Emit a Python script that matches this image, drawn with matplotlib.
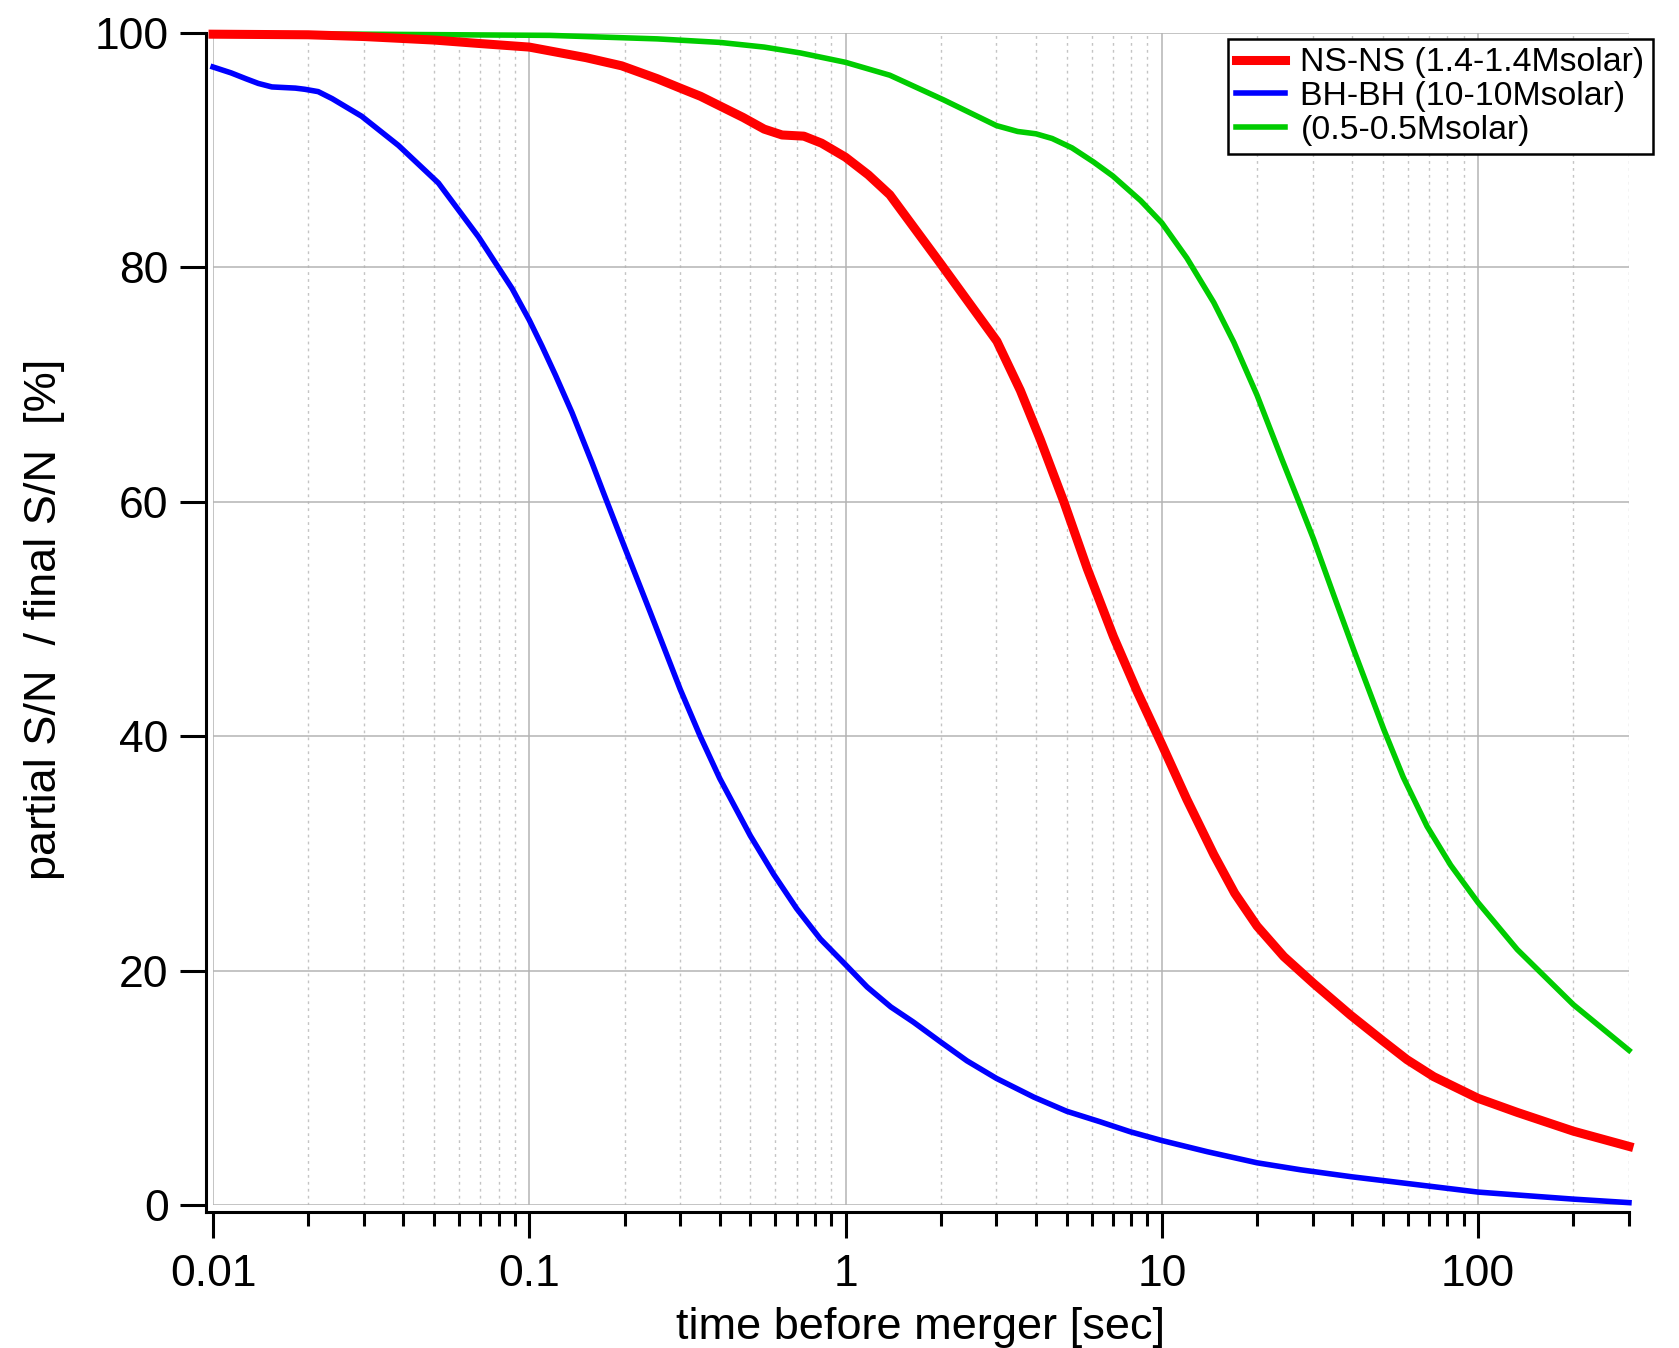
# Partial S/N accumulated before merger, for three binary types

# ################### IMPORT ####################
import matplotlib.pyplot as plt
import matplotlib.ticker as ticker


# ################### DATA ####################
# time before merger [sec] / partial S/N over final S/N [%]
NS_TIME = [0.01, 0.02, 0.03, 0.05, 0.07, 0.1, 0.151, 0.196, 0.254, 0.3,
           0.348, 0.406, 0.474, 0.553, 0.63, 0.738, 0.84, 1.0, 1.18, 1.38,
           2.0, 3.01, 3.57, 4.13, 4.9, 5.81, 7.03, 8.36, 10, 12.0, 14.6, 17,
           20, 24.3, 30.2, 39.5, 50, 59.6, 72.4, 100, 133, 200, 300]
NS_SN = [99.9, 99.85, 99.7, 99.4, 99.1, 98.8, 97.9, 97.2, 96.1, 95.3, 94.6,
         93.7, 92.8, 91.8, 91.3, 91.2, 90.6, 89.4, 87.9, 86.2, 80.3, 73.7,
         69.5, 65.3, 60.0, 54.3, 48.5, 43.8, 39.3, 34.6, 29.9, 26.6, 23.8,
         21.2, 18.9, 16.2, 14.0, 12.4, 10.95, 9.1, 7.9, 6.3, 5.0]

BH_TIME = [0.01, 0.0114, 0.0127, 0.0139, 0.01535, 0.0182, 0.0195, 0.0215,
           0.0238, 0.0295, 0.0386, 0.0516, 0.0691, 0.0882, 0.1, 0.1096, 0.121,
           0.1365, 0.158, 0.172, 0.199, 0.241, 0.3, 0.347, 0.4, 0.5, 0.593,
           0.7, 0.832, 1.0, 1.17, 1.39, 1.64, 2.0, 2.42, 3.0, 3.94, 5.0, 6.38,
           7.94, 10, 13.9, 20, 27.5, 40, 57, 100, 200, 300]
BH_SN = [97.1, 96.6, 96.1, 95.7, 95.4, 95.3, 95.2, 95.0, 94.4, 92.9, 90.4,
         87.2, 82.6, 78.2, 75.5, 73.3, 70.8, 67.6, 63.3, 60.7, 56.3, 50.6,
         44.0, 40.0, 36.4, 31.5, 28.2, 25.3, 22.7, 20.5, 18.6, 16.9, 15.6,
         13.9, 12.3, 10.8, 9.2, 8.0, 7.1, 6.25, 5.5, 4.55, 3.6, 3.0, 2.4, 1.9,
         1.1, 0.5, 0.2]

LIGHT_TIME = [0.01, 0.03, 0.116, 0.254, 0.4, 0.553, 0.72, 1.0, 1.38, 2.04,
              3.0, 3.5, 4.0, 4.5, 5.2, 6.08, 7.0, 8.57, 10, 12.0, 14.6, 16.9,
              20, 24.0, 27.4, 30.2, 35, 40.4, 50.3, 58, 69, 81.9, 100, 133, 200,
              300]
LIGHT_SN = [99.95, 99.9, 99.8, 99.5, 99.2, 98.8, 98.3, 97.5, 96.4, 94.3,
            92.1, 91.6, 91.4, 91.0, 90.2, 89.0, 87.8, 85.7, 83.8, 80.8, 77.0,
            73.6, 69.1, 63.6, 59.7, 56.8, 52.0, 47.4, 40.6, 36.5, 32.3, 29.0,
            25.8, 21.8, 17.1, 13.2]

LABELS = ["NS-NS (1.4-1.4Msolar)", "BH-BH (10-10Msolar)", "(0.5-0.5Msolar)"]

X_TICKS = [0.01, 0.1, 1, 10, 100]
X_TICK_LABELS = ["0.01", "0.1", "1", "10", "100"]
Y_TICKS = [0, 20, 40, 60, 80, 100]


# ################### FUNCTIONS ####################
def setupAxes(ax):
    ax.set_xscale("log")
    ax.set_xlim(0.01, 300)
    ax.set_ylim(0, 100)

    # Igor style axes: only left/bottom, pulled a little away from the data
    for side in ["top", "right"]:
        ax.spines[side].set_visible(False)
    for side in ["left", "bottom"]:
        ax.spines[side].set_position(("outward", 5))
        ax.spines[side].set_linewidth(2.2)
    ax.spines["left"].set_bounds(-0.6, 100)
    ax.spines["bottom"].set_bounds(0.0095, 300)

    ax.set_xticks(X_TICKS)
    ax.set_xticklabels(X_TICK_LABELS)
    ax.xaxis.set_minor_locator(ticker.LogLocator(base=10, subs=range(2, 10), numticks=20))
    ax.xaxis.set_minor_formatter(ticker.NullFormatter())
    ax.set_yticks(Y_TICKS)
    ax.yaxis.set_minor_locator(ticker.NullLocator())

    ax.tick_params(which="major", direction="out", length=19, width=2.2,
                   labelsize=32, pad=8)
    ax.tick_params(axis="x", which="major", pad=11)
    ax.tick_params(which="minor", direction="out", length=10, width=2.2)

    ax.set_axisbelow(True)
    ax.grid(True, which="major", color="#b4b4b4", linewidth=1.1)
    ax.grid(True, which="minor", axis="x", color="#c4c4c4", linewidth=1.0,
            linestyle=(0, (2, 3)))

    ax.set_xlabel("time before merger [sec]", fontsize=32.5, labelpad=9)
    ax.set_ylabel("partial S/N  / final S/N  [%]", fontsize=32.5, labelpad=21)


# Main Function
def main():
    plt.rcParams["font.family"] = ["Liberation Sans", "DejaVu Sans"]

    fig = plt.figure(figsize=(16.79, 13.48), dpi=100)
    ax = fig.add_axes([0.1269, 0.1061, 0.8433, 0.8694])
    setupAxes(ax)

    lineLight, = ax.plot(LIGHT_TIME, LIGHT_SN, color="#00cc00", linewidth=4,
                         clip_on=False)
    lineBH, = ax.plot(BH_TIME, BH_SN, color="#0000ff", linewidth=4,
                      clip_on=False)
    lineNS, = ax.plot(NS_TIME, NS_SN, color="#ff0000", linewidth=6.5,
                      clip_on=False)

    leg = fig.legend([lineNS, lineBH, lineLight], LABELS, loc="upper right",
                     bbox_to_anchor=(0.9845, 0.9711), fontsize=24.4,
                     handlelength=1.45, handletextpad=0.45, labelspacing=0.08,
                     borderpad=0.25, borderaxespad=0, fancybox=False,
                     framealpha=1, edgecolor="black")
    leg.get_frame().set_linewidth(1.8)

    fig.savefig("out.png", dpi=100)


# ################### EXECUTION ####################
main()
